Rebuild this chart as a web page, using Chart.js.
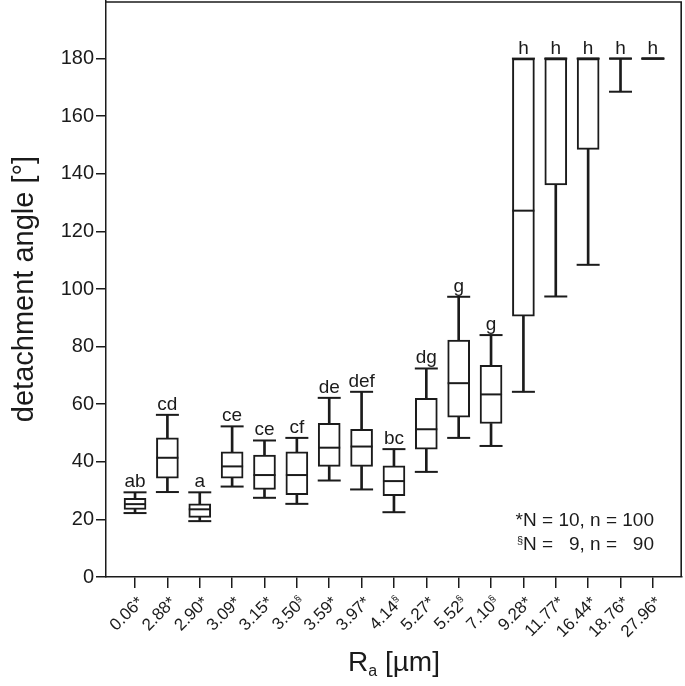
<!DOCTYPE html>
<html><head><meta charset="utf-8">
<script src="https://cdn.jsdelivr.net/npm/chart.js@4.4.1/dist/chart.umd.min.js"></script>
<style>html,body{margin:0;padding:0;background:#fff;}#wrap{width:685px;height:686px;}canvas{display:block;}</style>
</head><body><div id="wrap"><canvas id="c" width="685" height="686"></canvas></div>
<script>
// ---- data ----
const categories = ['0.06','2.88','2.90','3.09','3.15','3.50','3.59','3.97','4.14','5.27','5.52','7.10','9.28','11.77','16.44','18.76','27.96'];
const sampleMarks = ['*','*','*','*','*','§','*','*','§','*','§','§','*','*','*','*','*'];
const whiskerLow  = [22.2,29.5,19.4,31.4,27.5,25.4,33.5,30.4,22.5,36.5,48.3,45.5,64.3,97.4,108.4,168.5,180];
const quartile1   = [23.5,34.3,20.7,34.3,30.4,28.6,38.4,38.4,28.2,44.4,55.5,53.3,90.6,136.1,148.5,180,180];
const medians     = [25.3,41.4,23.5,38.4,35.4,35.4,44.9,45.3,33.3,51.3,67.3,63.4,127.2,180,180,180,180];
const quartile3   = [27.3,48.3,25.4,43.5,42.3,43.5,53.4,51.3,38.6,62.0,82.3,73.5,180,180,180,180,180];
const whiskerHigh = [29.4,56.3,29.4,52.3,47.4,48.3,62.2,64.3,44.4,72.4,97.3,84.0,180,180,180,180,180];
const groupLetters = ['ab','cd','a','ce','ce','cf','de','def','bc','dg','g','g','h','h','h','h','h'];
const yTickValues = [0,20,40,60,80,100,120,140,160,180];
const yTitle = 'detachment angle [°]';
const xTitleMain = 'R', xTitleSub = 'a', xTitleRest = ' [µm]';
const noteStar = { mark: '*', N: '10', n: '100' };
const noteSection = { mark: '§', N: '9', n: '90' };

// ---- styling ----
const FONT = "'Liberation Sans', Arial, Helvetica, sans-serif";
const INK = '#1b1b1b';
const idx = categories.map((_, i) => i);

const boxPlugin = {
  id: 'boxExtras',
  afterDraw(chart) {
    const ctx = chart.ctx, a = chart.chartArea;
    const xs = chart.scales.x, ys = chart.scales.y;
    ctx.save();
    // frame top / right
    const fTop = ys.getPixelForValue(ys.max);
    ctx.strokeStyle = INK; ctx.lineWidth = 1.6;
    ctx.beginPath();
    ctx.moveTo(a.left, fTop + 1); ctx.lineTo(a.right - 0.8, fTop + 1); ctx.lineTo(a.right - 0.8, a.bottom);
    ctx.stroke();
    ctx.fillStyle = INK;
    // group letters
    ctx.font = `19px ${FONT}`; ctx.textAlign = 'center'; ctx.textBaseline = 'alphabetic';
    idx.forEach(i => {
      ctx.fillText(groupLetters[i], xs.getPixelForValue(i), ys.getPixelForValue(whiskerHigh[i]) - 5);
    });
    // x tick labels (rotated, with superscript marks)
    idx.forEach(i => {
      const x = xs.getPixelForValue(i);
      ctx.save();
      ctx.translate(x + 6, a.bottom + 23);
      ctx.rotate(-Math.PI / 4);
      ctx.textAlign = 'right'; ctx.textBaseline = 'middle';
      let mw;
      if (sampleMarks[i] === '§') {
        ctx.font = `10px ${FONT}`; mw = ctx.measureText('§').width;
        ctx.fillText('§', 0, -4);
      } else {
        ctx.font = `17px ${FONT}`; mw = ctx.measureText('*').width;
        ctx.fillText('*', 0, 0);
      }
      ctx.font = `17px ${FONT}`;
      ctx.fillText(categories[i], -mw, 0);
      ctx.restore();
    });
    // x title with subscript
    ctx.textBaseline = 'alphabetic'; ctx.textAlign = 'left';
    ctx.font = `28px ${FONT}`;
    const wR = ctx.measureText(xTitleMain).width, wRest = ctx.measureText(xTitleRest).width;
    ctx.font = `16px ${FONT}`;
    const wSub = ctx.measureText(xTitleSub).width;
    const total = wR + wSub + wRest;
    let tx = (a.left + a.right) / 2 - total / 2;
    const ty = 671;
    ctx.font = `28px ${FONT}`; ctx.fillText(xTitleMain, tx, ty); tx += wR;
    ctx.font = `16px ${FONT}`; ctx.fillText(xTitleSub, tx, ty + 5); tx += wSub;
    ctx.font = `28px ${FONT}`; ctx.fillText(xTitleRest, tx, ty);
    // note text
    ctx.font = `19px ${FONT}`;
    const R = a.right - 28;
    const y1 = a.bottom - 51, y2 = a.bottom - 27;
    const line1 = `${noteStar.mark}N = ${noteStar.N}, n = ${noteStar.n}`;
    ctx.textAlign = 'right';
    ctx.fillText(line1, R, y1);
    const wNpart = ctx.measureText(`N = ${noteStar.N}, n = ${noteStar.n}`).width;
    const wnPart = ctx.measureText(`n = ${noteStar.n}`).width;
    const wSp = ctx.measureText(' ').width;
    ctx.fillText(noteSection.n, R, y2);
    ctx.fillText(`${noteSection.N},`, R - wnPart - wSp, y2);
    ctx.textAlign = 'left';
    ctx.fillText('n =', R - wnPart, y2);
    ctx.fillText('N =', R - wNpart, y2);
    ctx.textAlign = 'right';
    ctx.font = `11px ${FONT}`;
    ctx.fillText(noteSection.mark, R - wNpart, y2 - 6);
    ctx.restore();
  }
};

const whiskerStyle = { type: 'bar', backgroundColor: INK, borderWidth: 0, barThickness: 2, grouped: false, order: 3 };
const pointLine = (r) => ({ type: 'line', showLine: false, pointStyle: 'line', pointRadius: r, pointHoverRadius: r,
  pointBorderWidth: 2, pointBorderColor: INK, pointBackgroundColor: INK, order: 1, clip: false });

new Chart(document.getElementById('c'), {
  type: 'bar',
  data: {
    datasets: [
      Object.assign({ label: 'lower whisker', data: idx.map(i => ({ x: i, y: [whiskerLow[i], quartile1[i]] })) }, whiskerStyle),
      Object.assign({ label: 'upper whisker', data: idx.map(i => ({ x: i, y: [quartile3[i], whiskerHigh[i]] })) }, whiskerStyle),
      { type: 'bar', label: 'IQR', order: 2, grouped: false,
        data: idx.map(i => ({ x: i, y: quartile3[i] > quartile1[i] ? [quartile1[i], quartile3[i]] : null })),
        backgroundColor: '#ffffff', borderColor: INK, borderWidth: 2, borderSkipped: false, barThickness: 22 },
      Object.assign({ label: 'median', data: idx.map(i => ({ x: i, y: medians[i] })) }, pointLine(11)),
      Object.assign({ label: 'min', data: idx.map(i => ({ x: i, y: whiskerLow[i] })) }, pointLine(11.5)),
      Object.assign({ label: 'max', data: idx.map(i => ({ x: i, y: whiskerHigh[i] })) }, pointLine(11.5))
    ]
  },
  options: {
    responsive: false, devicePixelRatio: 1, animation: false, events: [],
    layout: { autoPadding: false, padding: { top: 1, right: 3, left: 0, bottom: 0 } },
    plugins: { legend: { display: false }, tooltip: { enabled: false } },
    scales: {
      x: {
        type: 'linear', min: -0.897, max: 16.9, offset: false,
        grid: { display: true, drawOnChartArea: false, drawTicks: true, tickLength: 11, color: INK, lineWidth: 1.5, offset: false },
        border: { display: true, color: INK, width: 1.5 },
        ticks: { display: false },
        afterBuildTicks: s => { s.ticks = idx.map(v => ({ value: v })); },
        afterFit: s => { s.height = 109; s.paddingLeft = 0; s.paddingRight = 0; s.paddingTop = 0; s.paddingBottom = 0; }
      },
      y: {
        min: 0, max: 200,
        grid: { display: true, drawOnChartArea: false, drawTicks: true, tickLength: 10, color: INK, lineWidth: 1.5 },
        border: { display: true, color: INK, width: 1.5 },
        ticks: { color: INK, padding: 2, font: { family: FONT, size: 20 } },
        afterBuildTicks: s => { s.ticks = yTickValues.map(v => ({ value: v })); },
        afterFit: s => { s.width = 106; s.paddingTop = 0; s.paddingBottom = 0; s.paddingLeft = 0; s.paddingRight = 0; },
        title: { display: true, text: yTitle, color: INK, font: { family: FONT, size: 29 }, padding: { top: 8, bottom: 0 } }
      }
    }
  },
  plugins: [boxPlugin]
});
</script></body></html>
